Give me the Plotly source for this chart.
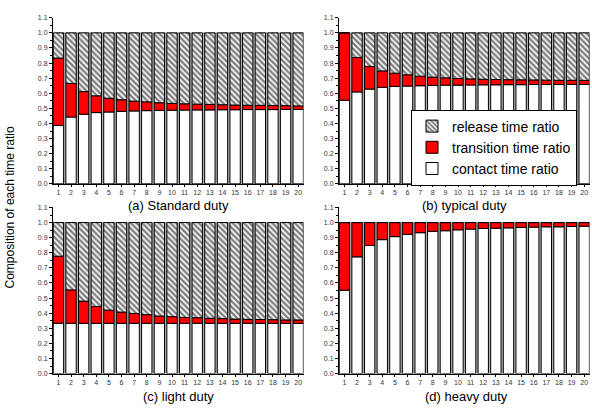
import plotly.graph_objects as go

cats = list(range(1, 21))

contact_a = [0.387, 0.443, 0.461, 0.472, 0.476, 0.480, 0.483, 0.485, 0.487, 0.488,
             0.489, 0.490, 0.490, 0.491, 0.491, 0.492, 0.492, 0.492, 0.493, 0.493]
transition_a = [0.446, 0.222, 0.150, 0.111, 0.091, 0.077, 0.065, 0.058, 0.050, 0.045,
                0.041, 0.038, 0.036, 0.033, 0.031, 0.029, 0.028, 0.027, 0.025, 0.023]
release_a = [0.167, 0.335, 0.389, 0.417, 0.433, 0.443, 0.452, 0.457, 0.463, 0.467,
             0.470, 0.472, 0.474, 0.476, 0.478, 0.479, 0.480, 0.481, 0.482, 0.484]

contact_b = [0.554, 0.609, 0.628, 0.639, 0.646, 0.648, 0.650, 0.652, 0.654, 0.654,
             0.655, 0.656, 0.656, 0.657, 0.657, 0.658, 0.658, 0.658, 0.659, 0.659]
transition_b = [0.446, 0.228, 0.150, 0.109, 0.087, 0.074, 0.063, 0.055, 0.048, 0.044,
                0.040, 0.037, 0.035, 0.033, 0.032, 0.030, 0.029, 0.028, 0.027, 0.026]
release_b = [0.000, 0.163, 0.222, 0.252, 0.267, 0.278, 0.287, 0.293, 0.298, 0.302,
             0.305, 0.307, 0.309, 0.310, 0.311, 0.312, 0.313, 0.314, 0.314, 0.315]

contact_c = [0.333] * 20
transition_c = [0.444, 0.221, 0.147, 0.111, 0.087, 0.074, 0.065, 0.057, 0.048, 0.044,
                0.039, 0.037, 0.033, 0.031, 0.028, 0.026, 0.025, 0.024, 0.022, 0.022]
release_c = [0.223, 0.446, 0.520, 0.556, 0.580, 0.593, 0.602, 0.610, 0.619, 0.623,
             0.628, 0.630, 0.634, 0.636, 0.639, 0.641, 0.642, 0.643, 0.645, 0.645]

contact_d = [0.552, 0.773, 0.848, 0.887, 0.907, 0.922, 0.933, 0.942, 0.946, 0.952,
             0.957, 0.961, 0.963, 0.965, 0.968, 0.970, 0.972, 0.972, 0.974, 0.976]
transition_d = [0.448, 0.227, 0.152, 0.113, 0.093, 0.078, 0.067, 0.058, 0.054, 0.048,
                0.043, 0.039, 0.037, 0.035, 0.032, 0.030, 0.028, 0.028, 0.026, 0.024]
release_d = [0.0] * 20

panel_titles = ["(a) Standard duty", "(b) typical duty", "(c) light duty", "(d) heavy duty"]
series_names = ["contact time ratio", "transition time ratio", "release time ratio"]
y_title = "Composition of each time ratio"

panels = [
    (contact_a, transition_a, release_a),
    (contact_b, transition_b, release_b),
    (contact_c, transition_c, release_c),
    (contact_d, transition_d, release_d),
]

W, H = 592, 410
xdoms = [[53 / W, 303.5 / W], [339 / W, 589.5 / W]]
ydoms = [[1 - 183 / H, 1 - 14 / H], [1 - 376 / H, 1 - 207 / H]]

fig = go.Figure()
BW = 0.82
for i, (con, tra, rel) in enumerate(panels):
    xa = "x" if i == 0 else f"x{i+1}"
    ya = "y" if i == 0 else f"y{i+1}"
    show = (i == 1)
    tot = [c + t + r for c, t, r in zip(con, tra, rel)]
    fig.add_trace(go.Bar(x=cats, y=tot, base=[0] * 20, width=BW, offset=-BW / 2 + 0.24,
                         marker=dict(color="#b0b0b0", line=dict(color="#888888", width=0.5)),
                         showlegend=False, hoverinfo="skip", xaxis=xa, yaxis=ya))
    base_t = con
    base_r = [c + t for c, t in zip(con, tra)]
    fig.add_trace(go.Bar(x=cats, y=con, base=[0] * 20, width=BW, offset=-BW / 2,
                         name=series_names[0], legendrank=3,
                         marker=dict(color="white", line=dict(color="black", width=1)),
                         showlegend=show, xaxis=xa, yaxis=ya))
    fig.add_trace(go.Bar(x=cats, y=tra, base=base_t, width=BW, offset=-BW / 2,
                         name=series_names[1], legendrank=2,
                         marker=dict(color="#ff0000", line=dict(color="black", width=1)),
                         showlegend=show, xaxis=xa, yaxis=ya))
    fig.add_trace(go.Bar(x=cats, y=rel, base=base_r, width=BW, offset=-BW / 2,
                         name=series_names[2], legendrank=1,
                         marker=dict(color="white", line=dict(color="black", width=1),
                                     pattern=dict(shape="\\", fgcolor="black", bgcolor="white",
                                                  size=4, solidity=0.6)),
                         showlegend=show, xaxis=xa, yaxis=ya))

layout = dict(
    width=W, height=H, margin=dict(l=0, r=0, t=0, b=0),
    paper_bgcolor="white", plot_bgcolor="white", barmode="overlay",
    font=dict(family="Liberation Sans, Arial, sans-serif", color="black"),
    legend=dict(x=411 / W, y=1 - 146 / H, xanchor="left", yanchor="middle",
                bgcolor="white", bordercolor="black", borderwidth=1,
                font=dict(size=14), tracegroupgap=0, itemwidth=30),
)
for i in range(4):
    col, row = i % 2, i // 2
    xk = "xaxis" if i == 0 else f"xaxis{i+1}"
    yk = "yaxis" if i == 0 else f"yaxis{i+1}"
    ya = "y" if i == 0 else f"y{i+1}"
    xa = "x" if i == 0 else f"x{i+1}"
    layout[xk] = dict(domain=xdoms[col], anchor=ya, range=[0.57, 20.42],
                      tickvals=cats, ticktext=[str(c) for c in cats],
                      showline=True, linecolor="black", linewidth=1,
                      ticks="outside", ticklen=2, tickcolor="black",
                      tickfont=dict(size=7, color="#333333"), showgrid=False, zeroline=False,
                      fixedrange=True)
    layout[yk] = dict(domain=ydoms[row], anchor=xa, range=[0, 1.1], dtick=0.1,
                      tickformat=".1f", showline=True, linecolor="black", linewidth=1,
                      ticks="outside", ticklen=3, tickcolor="black",
                      minor=dict(dtick=0.05, ticks="outside", ticklen=2, tickcolor="black"),
                      tickfont=dict(size=7, color="#333333"), showgrid=False, zeroline=False,
                      fixedrange=True)
fig.update_layout(**layout)

title_pos = [(178, 205), (464, 205), (178, 399), (466, 399)]
for t, (px, py) in zip(panel_titles, title_pos):
    fig.add_annotation(text=t, x=px / W, y=1 - py / H, xref="paper", yref="paper",
                       showarrow=False, font=dict(size=13), xanchor="center", yanchor="middle")
fig.add_annotation(text=y_title, x=10 / W, y=1 - 207 / H, xref="paper", yref="paper",
                   showarrow=False, textangle=-90, font=dict(size=12),
                   xanchor="center", yanchor="middle")

fig.write_html("out.html", config={"displayModeBar": False},
               post_script="document.body.style.margin='0';document.body.style.overflow='hidden';")
